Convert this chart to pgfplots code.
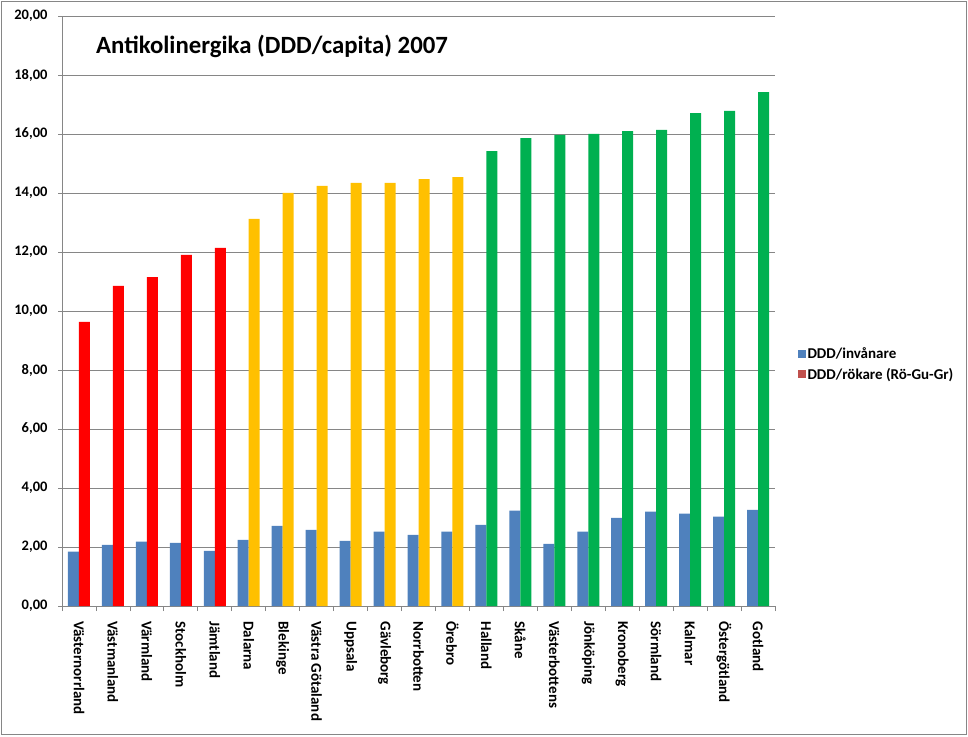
\documentclass[border=0pt]{standalone}
\usepackage{pgfplots}
\pgfplotsset{compat=1.18}
\usepackage{fontspec}
\setmainfont{Carlito}
\definecolor{exblue}{HTML}{4F81BD}
\definecolor{exred}{HTML}{C0504D}
\definecolor{cred}{HTML}{FF0000}
\definecolor{cyel}{HTML}{FFC000}
\definecolor{cgreen}{HTML}{00B050}
\definecolor{gridg}{HTML}{868686}
\begin{document}
\begin{tikzpicture}
\path[use as bounding box] (0pt,0pt) rectangle (968pt,736pt);
\draw[gridg, line width=1pt] (1.5pt,1.5pt) rectangle (966pt,734.5pt);
\begin{axis}[
  at={(62pt,130pt)}, anchor=south west,
  scale only axis, width=713pt, height=590pt,
  xmin=-0.5, xmax=20.5, ymin=0, ymax=20,
  axis x line=bottom, axis y line=left,
  axis line style={gridg, line width=0.8pt, -},
  ytick={0,2,...,20},
  ymajorgrids, grid style={gridg, line width=0.8pt},
  xtick={0,...,20},
  xticklabels={Västernorrland,Västmanland,Värmland,Stockholm,Jämtland,Dalarna,Blekinge,Västra Götaland,Uppsala,Gävleborg,Norrbotten,Örebro,Halland,Skåne,Västerbottens,Jönköping,Kronoberg,Sörmland,Kalmar,Östergötland,Gotland},
  minor xtick={-0.5,0.5,...,20.5},
  tick align=outside,
  major tick length=4pt, minor tick length=5pt,
  x tick style={draw=none},
  minor x tick style={draw=gridg, line width=0.8pt},
  y tick style={draw=gridg, line width=0.8pt},
  xticklabel style={yshift=-8pt, rotate=-90, anchor=west, font=\fontsize{15}{17}\selectfont\bfseries},
  yticklabel style={font=\fontsize{14.5}{17}\selectfont\bfseries, xshift=-7pt},
  /pgf/number format/.cd, fixed, fixed zerofill, precision=2, use comma, assume math mode=true,
  /pgfplots/.cd,
  legend style={draw=none, fill=none, at={(1.032,0.41)}, anchor=west,
    font=\fontsize{15}{17}\selectfont, row sep=5pt, inner sep=0pt, nodes={inner sep=1.5pt}},
  legend cell align=left,
  legend image code/.code={\fill[#1] (0pt,-4pt) rectangle (8pt,4pt);},
]
\addplot[ybar, bar width=11pt, bar shift=-5.5pt, fill=exblue, draw=none] coordinates {
(0,1.84) (1,2.07) (2,2.18) (3,2.14) (4,1.87) (5,2.24) (6,2.72) (7,2.58) (8,2.21) (9,2.52) (10,2.41)
(11,2.52) (12,2.75) (13,3.23) (14,2.11) (15,2.52) (16,2.99) (17,3.20) (18,3.13) (19,3.03) (20,3.26)};
\addlegendentry{\bfseries DDD/invånare}
\addlegendimage{fill=exred, draw=none}
\addlegendentry{\bfseries DDD/rökare (Rö-Gu-Gr)}
\addplot[ybar, bar width=11pt, bar shift=5.5pt, fill=cred, draw=none, forget plot] coordinates {
(0,9.63) (1,10.85) (2,11.15) (3,11.90) (4,12.14)};
\addplot[ybar, bar width=11pt, bar shift=5.5pt, fill=cyel, draw=none, forget plot] coordinates {
(5,13.12) (6,14.00) (7,14.24) (8,14.34) (9,14.34) (10,14.47) (11,14.54)};
\addplot[ybar, bar width=11pt, bar shift=5.5pt, fill=cgreen, draw=none, forget plot] coordinates {
(12,15.42) (13,15.86) (14,15.97) (15,16.00) (16,16.10) (17,16.14) (18,16.71) (19,16.78) (20,17.42)};
\end{axis}
\node[anchor=base west, font=\fontsize{24.8}{29}\selectfont\bfseries, inner sep=0pt] at (96pt,682pt) {Antikolinergika (DDD/capita) 2007};
\end{tikzpicture}
\end{document}
